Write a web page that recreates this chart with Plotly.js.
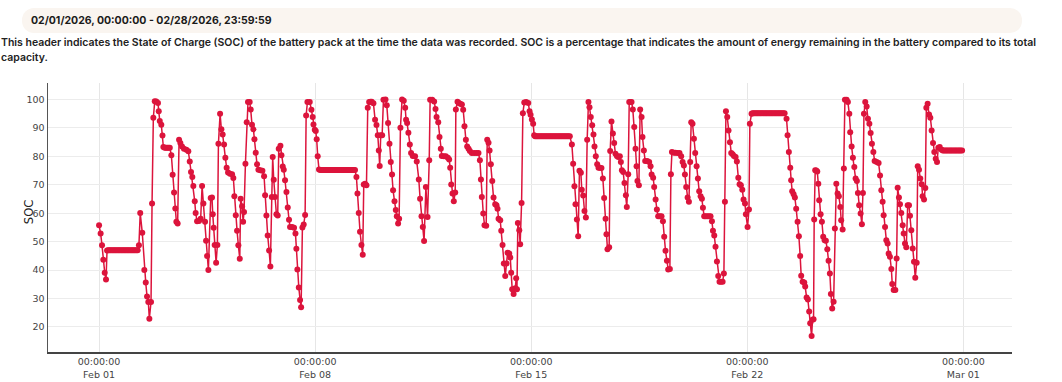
<!DOCTYPE html>
<html><head><meta charset="utf-8">
<script src="https://cdn.plot.ly/plotly-3.0.1.min.js"></script>
<style>
html,body{margin:0;padding:0;background:#fff;width:1062px;height:382px;overflow:hidden;font-family:Inter,'Noto Sans',sans-serif;}
#hdr{position:absolute;left:22px;top:8px;width:1000px;height:25px;background:#faf5f0;border-radius:12px;}
#hdr span{position:absolute;left:9px;top:6px;font-size:10.5px;font-weight:700;color:#1a1a1a;}
#desc{position:absolute;left:1px;top:35px;width:1058px;font-size:10.5px;font-weight:600;line-height:15px;color:#222;}
#chart{position:absolute;left:0;top:0;width:1062px;height:382px;}
</style></head>
<body>
<div id="chart"></div>
<div id="hdr"><span>02/01/2026, 00:00:00 - 02/28/2026, 23:59:59</span></div>
<div id="desc">This header indicates the State of Charge (SOC) of the battery pack at the time the data was recorded. SOC is a percentage that indicates the amount of energy remaining in the battery compared to its total capacity.</div>
<script>
// hours after 2026-02-01 00:00
const hours = [
0,1.2,2.3,3.3,4.4,5.4,6.2,7,8,9,10,11,12,13,14,15,16,17,18,19,20,21,22,23,24,25,26,27,28,29,30,
31,32,33.6,35.2,36.3,37.3,38.3,39.1,40.4,41.2,42.2,43.3,44.5,45.8,46.4,47.2,48.4,49.3,50,51,52,53,54,55,
56.2,57.2,58.3,59.3,60.1,61.1,62.2,63.2,64.5,66,67.9,69.4,70.5,71.5,72.5,73.3,74.4,75.1,76.2,77.7,79,80.1,81.1,
82.4,83.2,84,85,86.8,87.8,88.4,89.1,89.9,91,92,92.8,94.1,95.1,96.1,97.2,98.2,99.2,100.3,101.8,103.4,104.4,105.2,
106.3,107.3,108.3,109.4,110.1,111.2,112,112.7,113.8,114.8,115.8,117.1,117.9,118.9,120,120.8,121.8,122.8,123.9,
125.4,127,128.3,129.1,130.1,131.1,132.2,133.2,134.3,135,135.8,136.8,137.9,138.9,139.7,141,141.8,142.8,143.6,
144.6,145.7,146.7,147.7,148.5,150.1,151.6,152.7,153.4,154.2,155.3,156.3,157.1,158.1,159.1,160.2,161,162,163.8,
165.1,166.1,166.7,167.7,168.5,169.2,170,171,
172,173,174,175,176,177,178,179,180,181,182,183,184,185,186,187,188,189,190,191,192,193,194,195,196,197,198,199,
200.1,200.9,201.9,202.9,204,205,205.8,206.8,207.9,208.9,210,211,212,213.3,214.6,215.7,216.7,217.5,218.2,219,220.1,
221.1,222.7,223.7,224.7,225.8,226.8,227.8,228.6,229.7,230.7,231.5,232.5,233.3,234.3,235.6,236.9,238,238.7,239.5,
240.5,241.6,242.6,243.9,245.7,247,248.6,249.6,250.7,251.7,252.7,254.1,255.4,256.7,257.4,259,260.5,261.6,262.4,
263.7,264.7,265.7,266.5,268.1,269.6,271.2,272.2,273,273.8,274.8,275.8,276.9,277.4,278.7,279.7,280.8,282.1,283.1,
284.1,285.2,286.2,287.3,288.3,289.8,291.7,293.5,295,296.1,296.9,297.6,298.7,299.7,301,301.8,302.8,303.6,304.6,
305.7,306.7,308,309,309.8,310.6,311.9,312.7,313.7,314.7,315.8,316.8,317.6,318.9,319.7,320.4,321.2,322.3,323.6,
324.3,324.9,325.6,326.7,327.4,328.5,329.5,330.6,332.1,333.7,334.7,335.5,336.5,337.5,338.3,
339,340,341,342,343,344,345,346,347,348,349,350,351,352,353,354,355,356,357,358,359,360,361,362,363,364,365,366,
367.6,368.6,369.6,370.4,371.5,372.5,373.5,374.6,375.3,376.4,377.4,378.5,379.5,380.5,381.3,382.3,383.4,384.4,
385.2,386.2,387.3,388.3,389.3,390.6,391.7,392.7,393.8,394.5,395.3,396.6,397.4,398.4,399.5,400.5,401.5,402.6,
403.6,404.9,405.7,406.5,407.5,408.5,409.6,410.3,411.4,412.2,413.1,414,415,416.1,417.1,417.9,418.6,419.7,420.7,
421.8,422.5,423.6,424.6,426.2,427.7,428.8,429.6,430.8,431.6,432.7,433.7,434.7,436,437.3,438.4,439.4,440.4,441.5,
442.5,443.8,444.6,445.4,446.9,448.2,449.8,451.3,452.6,453.7,454.7,455.5,456.5,457.6,458.6,459.6,460.4,461.4,
462.5,463.5,464.6,465.6,466.6,467.7,468.7,469.5,470.5,471.6,472.9,474.2,475.4,476.5,477.3,478.3,479.3,480.4,
481.4,482.4,483.5,484.8,485.8,486.6,487.4,488.4,489.4,490.5,491.5,492.6,493.6,494.9,495.9,497,498,499,500.1,
501.1,502.2,502.9,504.2,505.3,506,507.3,
508,509,510,511,512,513,514,515,516,517,518,519,520,521,522,523,524,525,526,527,528,529,530,531,532,533,
534.5,535.3,536.3,537.4,538.1,538.9,540,541,542,543.1,544.1,545.1,545.9,547,548.3,549,550.1,551.1,552.1,552.9,
554,554.7,555.5,556,556.8,557.6,558.4,559.2,559.9,561,562,563,564.1,565.1,566.2,567.2,568.2,569,570,571.1,572.1,
573.2,574.2,575.2,576.3,577,578.1,579.1,579.9,581.2,582.2,583.3,584,585.1,586.1,587.2,588.2,589.2,590,591,592.1,
593.1,593.9,594.7,595.7,596.8,597.8,598.9,599.9,600.9,602,603,604.6,606.1,607.2,608.2,609.2,610,611.1,612.1,
613.1,613.9,614.9,616,616.7,617.8,619.1,620.1,620.9,621.9,622.7,623.7,624.8,625.6,626.6,627.6,628.7,629.7,630.5,
631.5,632.6,633.6,634.6,635.7,636.5,637.5,638.5,639.6,640.3,641.4,642.4,643.2,644.2,645.3,646.3,647.3,648.4,
649.4,650.5,651.5,652.5,653.6,655.1,
656,657,658,659,660,661,662,663,664,665,666,667,668,669,670,671
];
const soc = [
55.8,52.9,48.7,43.6,39.1,36.7,46.9,47,47,47,47,47,47,47,47,47,47,47,47,47,47,47,47,47,47,47,47,47,47,47,47,
48.7,60.1,53.1,40.0,35.6,30.7,28.8,22.9,28.8,63.4,93.6,99.4,99.3,98.8,95.9,92.4,91.1,87.3,83.3,83,83,83,83,83,
80.4,73.5,67.3,61.7,57.0,56.4,85.8,84.7,83.5,82.7,82.3,81.8,78.2,74.5,72.7,69.6,64.2,60.1,57.2,57.3,58.1,69.6,63.4,
57.0,50.3,45.0,40.0,65.4,65.5,59.6,54.9,48.8,42.6,48.8,84.4,95.0,89.5,87.7,84.2,79.5,76.0,74.3,73.9,73.7,72.4,66.0,
59.3,53.8,48.7,44.0,65.1,62.5,57.0,60.4,77.4,92.0,99.1,99.1,96.5,91.1,89.5,86.0,81.3,77.2,75.3,
75.1,74.9,73.0,66.3,59.2,52.2,46.9,41.3,65.7,79.8,71.8,65.7,59.6,59.2,82.7,83.7,80.4,76.4,75.3,
71.6,67.5,62.0,57.7,55.2,55.2,54.9,52.9,47.5,40.2,33.9,29.5,26.9,55.0,56.0,59.4,94.4,99.1,99.1,
96.4,93.8,91.2,89.4,88.9,86.0,80.0,75.4,
75.2,75.2,75.2,75.2,75.2,75.2,75.2,75.2,75.2,75.2,75.2,75.2,75.2,75.2,75.2,75.2,75.2,75.2,75.2,75.2,75.2,75.2,75.2,75.2,75.2,75.2,75.2,75.2,
72.7,66.9,60.1,53.5,48.8,45.4,70.1,70.4,69.8,97.1,99.1,99.2,99.2,98.7,92.9,91.0,87.4,82.1,76.6,87.4,87.4,
99.9,100,98.0,91.7,84.4,78.0,73.6,68.1,64.2,61.1,58.9,56.4,58.1,90.1,100,99.6,97.1,92.9,91.7,
88.3,84.2,81.2,80.1,80.0,78.2,71.9,65.1,58.9,55.2,50.2,69.2,58.7,78.6,99.9,99.9,99.3,96.7,93.8,
92.0,86.8,82.7,80.1,80.0,80.0,79.5,78.9,76.0,70.1,66.9,64.2,67.3,96.5,99.2,98.8,98.5,98.2,96.4,
90.6,85.8,83.5,82.7,81.9,81.2,81.2,81.2,81.2,78.6,71.9,65.7,59.9,55.8,55.6,85.8,84.8,82.1,77.2,
71.3,65.5,63.2,62.8,61.6,58.1,57.5,53.8,48.8,42.3,37.9,42.3,46.1,45.8,44.4,39.1,33.3,31.6,33.6,
37.1,33.3,56.6,54.0,49.1,63.6,95.2,98.9,99.1,98.8,95.9,94.6,93.0,91.5,87.4,
87.1,87.1,87.1,87.1,87.1,87.1,87.1,87.1,87.1,87.1,87.1,87.1,87.1,87.1,87.1,87.1,87.1,87.1,87.1,87.1,87.1,87.1,87.1,87.1,87.1,87.1,87.1,87.1,
84.2,77.4,69.5,63.2,57.8,51.9,74.9,74.2,68.3,66.2,60.8,58.5,85.8,99.1,97.3,93.8,90.9,87.7,
83.5,80.0,77.2,76.0,76.0,75.9,72.2,65.4,58.1,52.6,47.3,48.0,81.9,92.3,88.0,84.7,80.9,80.1,
79.8,80.0,78.0,75.1,74.5,70.6,66.3,62.2,73.7,99.1,99.1,99.1,96.5,90.3,82.7,76.5,71.3,69.8,96.5,
93.8,86.8,82.1,78.4,78.4,78.0,76.5,73.6,72.5,69.2,64.8,61.3,58.9,58.9,58.9,57.2,51.7,46.8,43.3,
40.2,40.4,73.7,81.5,81.3,81.3,81.2,81.2,80.0,78.0,76.8,73.6,69.2,65.5,64.0,78.0,92.0,91.5,
86.2,81.2,76.5,72.2,67.7,66.0,65.1,61.9,58.9,58.9,58.9,58.9,58.9,57.2,53.8,52.2,48.2,43.0,
37.9,35.9,35.9,35.9,38.8,64.0,95.9,93.8,89.1,85.0,81.2,80.7,80.1,79.8,78.2,72.5,70.2,69.8,68.3,
64.8,63.4,59.6,55.2,61.3,91.5,95.0,
95.2,95.2,95.2,95.2,95.2,95.2,95.2,95.2,95.2,95.2,95.2,95.2,95.2,95.2,95.2,95.2,95.2,95.2,95.2,95.2,95.2,95.2,95.2,95.2,95.2,95.2,
93.2,87.4,81.5,76.0,71.6,67.7,66.7,65.5,61.6,57.0,51.9,45.0,38.0,35.9,35.6,34.2,30.4,29.7,25.4,21.3,
16.8,22.5,22.7,57.8,75.1,75.0,74.7,70.4,64.6,59.6,57.0,51.7,50.5,50.3,47.3,43.3,38.8,31.6,26.5,28.9,54.6,
70.4,66.9,66.0,62.2,57.5,54.3,75.7,99.9,99.9,99.1,95.0,88.5,83.5,79.5,76.3,72.2,71.3,67.1,62.8,59.9,
56.1,67.1,95.0,99.1,97.5,93.2,91.5,88.2,84.4,81.5,78.4,78.0,77.7,73.3,68.1,64.0,59.3,55.2,50.5,
49.4,45.8,44.7,40.4,35.1,33.0,33.0,44.1,69.0,65.5,63.2,60.1,55.8,52.9,49.4,48.0,62.8,62.8,59.1,
54.0,47.6,42.9,37.3,42.6,76.5,75.3,72.2,70.2,66.0,64.8,68.9,97.1,98.5,94.7,93.6,89.1,84.7,
81.5,79.2,78.0,83.0,83.3,82.3,
82.1,82.1,82.1,82.1,82.1,82.1,82.1,82.1,82.1,82.1,82.1,82.1,82.1,82.1,82.1,82.1
];
const tickDates = ['2026-02-01','2026-02-08','2026-02-15','2026-02-22','2026-03-01'];
const startMs = Date.UTC(2026,1,1,0,0,0);

function fmt(ms){ return new Date(ms).toISOString().slice(0,19).replace('T',' '); }
const x = hours.map(h => fmt(startMs + Math.round(h*3600000)));

const trace = {
  type:'scatter', mode:'lines+markers', x:x, y:soc,
  line:{color:'#dc143c', width:1.5},
  marker:{color:'#dc143c', size:6},
  hoverinfo:'skip'
};
const tickFont = {family:'DejaVu Sans, sans-serif', size:9.5, color:'#444'};
const layout = {
  width:1062, height:382,
  margin:{l:48, r:50, t:83, b:30},
  paper_bgcolor:'rgba(0,0,0,0)', plot_bgcolor:'#fff',
  showlegend:false,
  xaxis:{
    type:'date', range:[fmt(startMs - 39.7*3600000), fmt(startMs + 709.8*3600000)],
    tickvals:tickDates, tickformat:'%H:%M:%S<br>%b %d',
    showline:true, linecolor:'#444', linewidth:2, mirror:false,
    showgrid:true, gridcolor:'#e6e6e6', gridwidth:1, zeroline:false,
    ticks:'', tickfont:tickFont, automargin:false
  },
  yaxis:{
    range:[11.2, 105.8], dtick:10, tick0:0,
    showline:true, linecolor:'#555', linewidth:1.5,
    showgrid:true, gridcolor:'#ececec', gridwidth:1, zeroline:false,
    ticks:'', tickfont:tickFont, automargin:false
  },
  annotations:[{
    text:'SOC', xref:'paper', yref:'paper', x:-0.0197, y:0.52,
    xanchor:'center', yanchor:'middle', textangle:-90, showarrow:false,
    font:{family:'DejaVu Sans, sans-serif', size:11.5, color:'#222'}
  }]
};
Plotly.newPlot('chart', [trace], layout, {displayModeBar:false, staticPlot:true});
</script>
</body></html>
